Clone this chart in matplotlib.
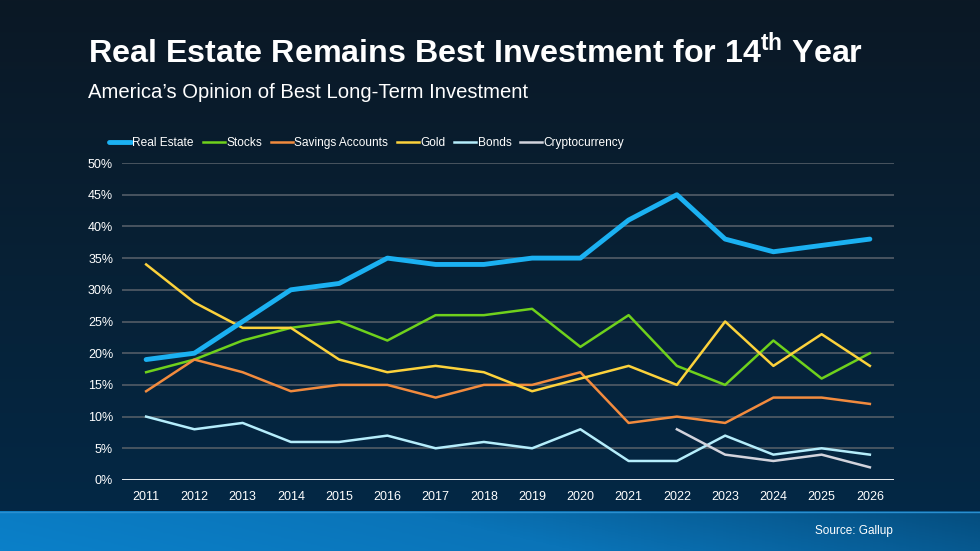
import numpy as np
import matplotlib
matplotlib.use("Agg")
import matplotlib.pyplot as plt
from matplotlib.colors import LinearSegmentedColormap

plt.rcParams['font.family'] = ['Liberation Sans', 'DejaVu Sans']
plt.rcParams['mathtext.fontset'] = 'custom'
plt.rcParams['mathtext.rm'] = 'Liberation Sans'
plt.rcParams['mathtext.bf'] = 'Liberation Sans:bold'

years = list(range(2011, 2027))
real_estate = [19, 20, 25, 30, 31, 35, 34, 34, 35, 35, 41, 45, 38, 36, 37, 38]
stocks = [17, 19, 22, 24, 25, 22, 26, 26, 27, 21, 26, 18, 15, 22, 16, 20]
savings = [14, 19, 17, 14, 15, 15, 13, 15, 15, 17, 9, 10, 9, 13, 13, 12]
gold = [34, 28, 24, 24, 19, 17, 18, 17, 14, 16, 18, 15, 25, 18, 23, 18]
bonds = [10, 8, 9, 6, 6, 7, 5, 6, 5, 8, 3, 3, 7, 4, 5, 4]
crypto_years = [2022, 2023, 2024, 2025, 2026]
crypto = [8, 4, 3, 4, 2]
y_ticks = [0, 5, 10, 15, 20, 25, 30, 35, 40, 45, 50]

W, H = 980, 551
fig = plt.figure(figsize=(W / 100, H / 100), dpi=100)

# background gradient (dark navy)
bg = fig.add_axes([0, 0, 1, 1])
bg.set_axis_off()
grad = LinearSegmentedColormap.from_list("bg", ["#0b1825", "#072136", "#032948"])
yy = np.linspace(0, 1, 256).reshape(-1, 1)
bg.imshow(yy, aspect='auto', cmap=grad, extent=[0, 1, 1, 0])
bg.set_xlim(0, 1)
bg.set_ylim(1, 0)

# bottom blue band
band = fig.add_axes([0, 0, 1, 40 / H])
band.set_axis_off()
bx, by = np.meshgrid(np.linspace(0, 1, 300), np.linspace(0, 1, 40))
band_cmap = LinearSegmentedColormap.from_list("band", ["#0b80c9", "#0a74b8", "#054d7e"])
band.imshow(bx * 0.85 + (1 - by) * 0.15, aspect='auto', cmap=band_cmap, extent=[0, 1, 0, 1])
band.axhline(0.985, color="#2a8fd0", lw=1)
band.set_xlim(0, 1)
band.set_ylim(0, 1)
fig.text(893 / W, 1 - 531 / H, "Source: Gallup", color="white", fontsize=8.5,
         ha="right", va="center")

# titles
fig.text(88 / W, 1 - 52 / H, "Real Estate Remains Best Investment for 14$^{\\mathbf{th}}$ Year",
         color="white", fontsize=23.25, fontweight="bold", ha="left", va="center")
fig.text(88 / W, 1 - 93 / H, "America\u2019s Opinion of Best Long-Term Investment",
         color="white", fontsize=14.6, ha="left", va="center")

# main chart
left, right, top, bottom = 122, 894, 163, 480
ax = fig.add_axes([left / W, 1 - bottom / H, (right - left) / W, (bottom - top) / H])
ax.set_facecolor("none")
ax.set_xlim(2010.5, 2026.5)
ax.set_ylim(0, 50)
for t in y_ticks[1:]:
    ax.axhline(t, color="#4d5863", lw=1.3, zorder=1)
ax.axhline(0, color="white", lw=2, zorder=1)

ax.plot(years, real_estate, color="#1bb1f2", lw=3.5, label="Real Estate", zorder=5,
        solid_capstyle="round")
ax.plot(years, stocks, color="#6fd11c", lw=1.8, label="Stocks", zorder=4)
ax.plot(years, savings, color="#f28b3e", lw=1.8, label="Savings Accounts", zorder=4)
ax.plot(years, gold, color="#fcd23c", lw=1.8, label="Gold", zorder=4)
ax.plot(years, bonds, color="#b5edfb", lw=1.8, label="Bonds", zorder=4)
ax.plot(crypto_years, crypto, color="#d2d3dc", lw=1.8, label="Cryptocurrency", zorder=4)

ax.set_xticks(years)
ax.set_xticklabels([str(y) for y in years])
ax.set_yticks(y_ticks)
ax.set_yticklabels([f"{t}%" for t in y_ticks])
ax.tick_params(colors="white", labelsize=9, length=0, pad=8)
ax.tick_params(axis="y", pad=6.4)
for s in ax.spines.values():
    s.set_visible(False)

leg = ax.legend(loc="lower left", bbox_to_anchor=(-0.023, 1.029), ncol=6, frameon=False,
                fontsize=8.6, handlelength=1.85, handletextpad=0.1, columnspacing=0.75,
                borderaxespad=0, labelcolor="white")

fig.savefig("out.png", dpi=100)
